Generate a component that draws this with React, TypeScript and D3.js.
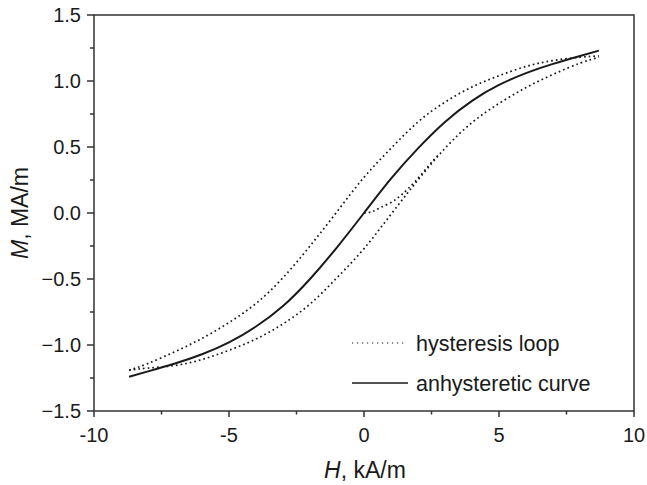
import React from "react";
import * as d3 from "d3";

const xTicks = [-10, -5, 0, 5, 10];
const yTicks = [-1.5, -1.0, -0.5, 0.0, 0.5, 1.0, 1.5];
const xMinor = [-7.5, -2.5, 2.5, 7.5];
const yMinor = [-1.25, -0.75, -0.25, 0.25, 0.75, 1.25];

const anhystH = [-8.7, -8, -7, -6, -5, -4, -3, -2, -1, 0, 1, 2, 3, 4, 5, 6, 7, 8, 8.7];
const anhystM = [-1.24, -1.2, -1.14, -1.07, -0.98, -0.86, -0.705, -0.5, -0.26, 0.0, 0.26, 0.49, 0.69, 0.85, 0.97, 1.06, 1.13, 1.19, 1.23];

const upperH = [-8.7, -8, -7, -6, -5, -4, -3, -2, -1, 0, 1, 2, 3, 4, 5, 6, 7, 8, 8.7];
const upperM = [-1.19, -1.14, -1.05, -0.95, -0.83, -0.685, -0.49, -0.25, 0.01, 0.27, 0.49, 0.69, 0.84, 0.955, 1.04, 1.11, 1.155, 1.18, 1.19];

const lowerH = [-8.7, -8, -7, -6, -5, -4, -3, -2, -1, 0, 1, 2, 3, 4, 5, 6, 7, 8, 8.7];
const lowerM = [-1.19, -1.175, -1.155, -1.11, -1.04, -0.955, -0.84, -0.69, -0.49, -0.27, -0.01, 0.25, 0.49, 0.685, 0.83, 0.95, 1.05, 1.135, 1.18];

const initH = [0, 0.3, 0.6, 1.0, 1.4, 1.9, 2.4, 2.8];
const initM = [0, 0.01, 0.04, 0.08, 0.14, 0.24, 0.36, 0.45];

const legendLabels = ["hysteresis loop", "anhysteretic curve"];

const W = 647;
const H = 485;
const left = 94;
const right = 634;
const top = 15;
const bottom = 411;
const font = "'Liberation Sans', Arial, Helvetica, sans-serif";
const ink = "#1a1a1a";

export default function App() {
  const x = d3.scaleLinear().domain([-10, 10]).range([left, right]);
  const y = d3.scaleLinear().domain([-1.5, 1.5]).range([bottom, top]);
  const line = d3
    .line<[number, number]>()
    .x((d) => x(d[0]))
    .y((d) => y(d[1]))
    .curve(d3.curveNatural);

  const zip = (a: number[], b: number[]) => a.map((v, i) => [v, b[i]] as [number, number]);

  const dotted = { fill: "none", stroke: ink, strokeWidth: 1.7, strokeDasharray: "1.7,3", strokeLinecap: "butt" as const };

  return (
    <svg width={W} height={H} style={{ position: "fixed", left: 0, top: 0, background: "#fff" }} fontFamily={font}>
      <rect x={0} y={0} width={W} height={H} fill="#fff" />
      {/* curves */}
      <path d={line(zip(upperH, upperM)) || ""} {...dotted} />
      <path d={line(zip(lowerH, lowerM)) || ""} {...dotted} />
      <path d={line(zip(initH, initM)) || ""} {...dotted} />
      <path d={line(zip(anhystH, anhystM)) || ""} fill="none" stroke={ink} strokeWidth={2} />

      {/* frame */}
      <rect x={left} y={top} width={right - left} height={bottom - top} fill="none" stroke="#333" strokeWidth={1.5} />

      {/* x ticks */}
      {xTicks.map((t) => (
        <g key={"xt" + t}>
          <line x1={x(t)} x2={x(t)} y1={bottom} y2={bottom + 6} stroke="#333" strokeWidth={1.5} />
          <text x={x(t)} y={bottom + 31} textAnchor="middle" fontSize={20} fill={ink}>
            {t}
          </text>
        </g>
      ))}
      {xMinor.map((t) => (
        <line key={"xm" + t} x1={x(t)} x2={x(t)} y1={bottom} y2={bottom + 3.5} stroke="#333" strokeWidth={1.5} />
      ))}
      {/* y ticks */}
      {yTicks.map((t) => (
        <g key={"yt" + t}>
          <line x1={left - 7} x2={left} y1={y(t)} y2={y(t)} stroke="#333" strokeWidth={1.5} />
          <text x={left - 13} y={y(t) + 7} textAnchor="end" fontSize={20} fill={ink}>
            {d3.format(".1f")(t)}
          </text>
        </g>
      ))}
      {yMinor.map((t) => (
        <line key={"ym" + t} x1={left - 4} x2={left} y1={y(t)} y2={y(t)} stroke="#333" strokeWidth={1.5} />
      ))}

      {/* axis titles */}
      <text x={(left + right) / 2 + 1} y={478} textAnchor="middle" fontSize={23} fill={ink}>
        <tspan fontStyle="italic">H</tspan>, kA/m
      </text>
      <text
        transform={`translate(28, ${(top + bottom) / 2}) rotate(-90)`}
        textAnchor="middle"
        fontSize={23}
        fill={ink}
      >
        <tspan fontStyle="italic">M</tspan>, MA/m
      </text>

      {/* legend */}
      <line x1={352} x2={407} y1={343} y2={343} {...dotted} strokeWidth={1.2} strokeDasharray="1.2,3.8" />
      <text x={416} y={351} fontSize={21.5} fill={ink}>
        {legendLabels[0]}
      </text>
      <line x1={352} x2={408} y1={383} y2={383} stroke={ink} strokeWidth={1.5} />
      <text x={416} y={391} fontSize={21.5} fill={ink}>
        {legendLabels[1]}
      </text>
    </svg>
  );
}
